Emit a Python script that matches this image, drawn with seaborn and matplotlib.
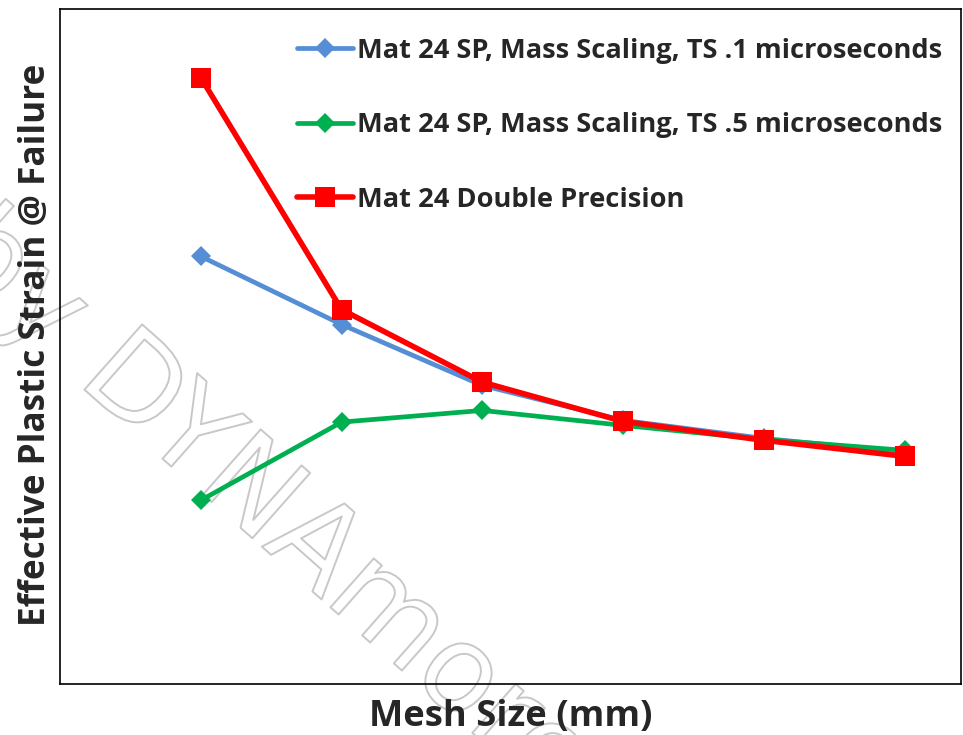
import matplotlib
matplotlib.use("Agg")
from matplotlib import pyplot as plt
from matplotlib import patheffects
import seaborn as sns
import pandas as pd

# mesh refinement levels (no tick labels shown on the chart)
mesh_size = [1, 2, 3, 4, 5, 6]

# effective plastic strain at failure
sp_ts01 = [0.4435, 0.3728, 0.3096, 0.2734, 0.2547, 0.2402]
sp_ts05 = [0.1905, 0.2716, 0.2837, 0.2682, 0.2537, 0.2423]
double_prec = [0.6289, 0.3883, 0.3130, 0.2723, 0.2527, 0.2361]

labels = ["Mat 24 SP, Mass Scaling, TS .1 microseconds",
          "Mat 24 SP, Mass Scaling, TS .5 microseconds",
          "Mat 24 Double Precision"]

df = pd.DataFrame({
    "mesh": mesh_size * 3,
    "strain": sp_ts01 + sp_ts05 + double_prec,
    "series": [labels[0]] * 6 + [labels[1]] * 6 + [labels[2]] * 6,
})

sns.set_style("white")
plt.rcParams['font.family'] = ['Open Sans', 'DejaVu Sans']

fig = plt.figure(figsize=(9.63, 7.35), dpi=100)
ax = fig.add_axes([60 / 963, 51 / 735, 901 / 963, 675 / 735])

# line styles per series
styles = {
    labels[0]: dict(color="#558ED5", marker="D", markersize=10.5, linewidth=3.4),
    labels[1]: dict(color="#00B050", marker="D", markersize=10.5, linewidth=3.4),
    labels[2]: dict(color="#FF0000", marker="s", markersize=14.5, linewidth=4.0),
}

for i, name in enumerate(labels):
    sub = df[df["series"] == name]
    st = styles[name]
    sns.lineplot(data=sub, x="mesh", y="strain", ax=ax, label=name,
                 color=st["color"], marker=st["marker"],
                 markersize=st["markersize"], linewidth=st["linewidth"],
                 markeredgewidth=0, zorder=3 + i)

ax.set_xlim(0, 6.4)
ax.set_ylim(0, 0.7)
ax.set_xticks([])
ax.set_yticks([])
ax.set_xlabel("")
ax.set_ylabel("")
for sp in ax.spines.values():
    sp.set_visible(True)
    sp.set_color("black")
    sp.set_linewidth(1.2)

leg = ax.legend(loc="upper left", bbox_to_anchor=(297 / 963, 1 - 38 / 735),
                bbox_transform=fig.transFigure, frameon=False,
                borderpad=0, borderaxespad=0, handlelength=2.05,
                handletextpad=0.15, labelspacing=1.78,
                prop={"family": ["Open Sans", "DejaVu Sans"], "weight": "bold",
                      "size": 19.6})

# axis titles
fig.text(511 / 963, 1 - 717 / 735, "Mesh Size (mm)", ha="center", va="center",
         fontsize=26.2, fontweight="bold")
fig.text(36 / 963, 1 - 345 / 735, "Effective Plastic Strain @ Failure",
         ha="center", va="center", rotation=90, fontsize=25.3, fontweight="bold")

# outlined watermark
ax.text(268 / 963, 1 - 508 / 735, "by DYNAmore", transform=fig.transFigure,
        ha="center", va="center", rotation=-41.5, rotation_mode="anchor",
        fontsize=86, family="DejaVu Sans", color="none", clip_on=False,
        zorder=1,
        path_effects=[patheffects.withStroke(linewidth=1.4,
                                             foreground="#c8c8c8")])

plt.savefig("out.png", dpi=100)
